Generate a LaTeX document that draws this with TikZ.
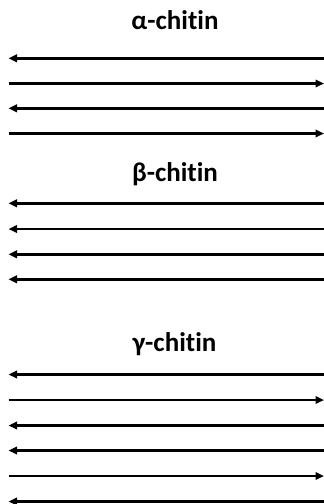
\documentclass[tikz,border=0pt]{standalone}
\usepackage{fontspec}
\setmainfont{Carlito}[Ligatures=NoCommon]
\usetikzlibrary{arrows.meta}
\begin{document}
\begin{tikzpicture}[x=1pt,y=-1pt,
  chain/.style={line width=2.6pt,black},
  tl/.style={chain,{Triangle[length=8.5pt,width=7.5pt]}-},
  tr/.style={chain,-{Triangle[length=8.5pt,width=7.5pt]}},
  title/.style={font=\bfseries\fontsize{27}{31}\selectfont,anchor=base,inner sep=0pt}]
\useasboundingbox (0,0) rectangle (324,504);
\fill[white] (0,0) rectangle (324,504);
\node[title] (ta) at (175,29) {α-chitin};
\node[title] (tb) at (175,181) {β-chitin};
\node[title] (tg) at (174.5,351.5) {γ-chitin};
% alpha
\foreach \n/\y in {1/58.3,2/83.5,3/108.3,4/133.5}{
  \coordinate (aL\n) at (8.5,\y); \coordinate (aR\n) at (324,\y);}
\draw[tl] (aL1) -- (aR1);
\draw[tr] (aL2) -- (aR2);
\draw[tl] (aL3) -- (aR3);
\draw[tr] (aL4) -- (aR4);
% beta
\foreach \n/\y in {1/203.3,2/229,3/254.3,4/279.3}{
  \coordinate (bL\n) at (8.5,\y); \coordinate (bR\n) at (324,\y);}
\draw[tl] (bL1) -- (bR1);
\draw[tl] (bL2) -- (bR2);
\draw[tl] (bL3) -- (bR3);
\draw[tl] (bL4) -- (bR4);
% gamma
\foreach \n/\y in {1/374.5,2/400,3/425.5,4/450.5,5/476,6/501.5}{
  \coordinate (gL\n) at (8.5,\y); \coordinate (gR\n) at (324,\y);}
\draw[tl] (gL1) -- (gR1);
\draw[tr] (gL2) -- (gR2);
\draw[tl] (gL3) -- (gR3);
\draw[tl] (gL4) -- (gR4);
\draw[tr] (gL5) -- (gR5);
\draw[tl] (gL6) -- (gR6);
\end{tikzpicture}
\end{document}
